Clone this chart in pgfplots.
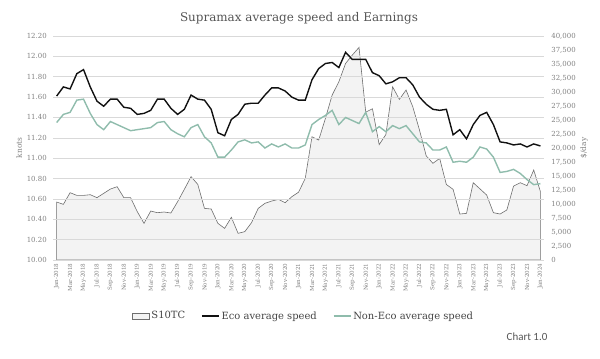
\documentclass[border=0pt]{standalone}
\usepackage{pgfplots}
\pgfplotsset{compat=1.18}
\usepackage{pgfplotstable}
\usepackage{fontspec}
\setmainfont{DejaVu Serif}
\newfontfamily\chartfont{Carlito}
\definecolor{gridc}{HTML}{D9D9D9}
\definecolor{tickc}{HTML}{808080}
\definecolor{titlec}{HTML}{555555}
\definecolor{legc}{HTML}{444444}
\definecolor{ecoc}{HTML}{111111}
\definecolor{nonecoc}{HTML}{8FBCAC}
\definecolor{s10c}{HTML}{6E6E6E}
\definecolor{s10f}{HTML}{F3F3F3}

\pgfplotstableread{
m eco noneco s10
0 11.61 11.35 10350
1 11.70 11.43 9940
2 11.68 11.45 12020
3 11.83 11.57 11540
4 11.87 11.58 11540
5 11.70 11.44 11660
6 11.56 11.33 11130
7 11.51 11.28 11900
8 11.58 11.36 12670
9 11.58 11.33 13090
10 11.50 11.30 11130
11 11.49 11.27 11130
12 11.43 11.28 8630
13 11.44 11.29 6545
14 11.47 11.30 8750
15 11.58 11.35 8450
16 11.58 11.36 8570
17 11.49 11.28 8390
18 11.43 11.24 10410
19 11.48 11.21 12610
20 11.62 11.30 14880
21 11.58 11.33 13510
22 11.57 11.21 9220
23 11.48 11.15 9100
24 11.25 11.01 6545
25 11.22 11.01 5650
26 11.38 11.08 7620
27 11.43 11.16 4760
28 11.53 11.18 5060
29 11.54 11.15 6660
30 11.54 11.16 9220
31 11.62 11.10 10120
32 11.69 11.14 10530
33 11.69 11.11 10830
34 11.66 11.14 10230
35 11.60 11.10 11300
36 11.57 11.10 12100
37 11.57 11.13 14580
38 11.77 11.33 22015
39 11.88 11.38 21420
40 11.93 11.42 25290
41 11.94 11.47 29450
42 11.89 11.33 31830
43 12.04 11.40 35100
44 11.97 11.37 36590
45 11.97 11.34 37960
46 11.97 11.45 26400
47 11.84 11.26 27000
48 11.81 11.31 20600
49 11.73 11.26 22400
50 11.75 11.32 30940
51 11.79 11.29 28680
52 11.79 11.32 30350
53 11.72 11.24 27370
54 11.60 11.16 23200
55 11.53 11.15 18600
56 11.48 11.08 17260
57 11.47 11.08 18150
58 11.48 11.11 13480
59 11.23 10.96 12620
60 11.28 10.97 8210
61 11.19 10.96 8330
62 11.33 11.01 13800
63 11.42 11.11 12700
64 11.45 11.09 11600
65 11.33 11.01 8450
66 11.16 10.86 8210
67 11.15 10.87 8930
68 11.13 10.89 13200
69 11.14 10.85 13800
70 11.11 10.79 13270
71 11.14 10.74 16070
72 11.12 10.75 12200
}\speeddata

\begin{document}
\begin{tikzpicture}
\path[use as bounding box] (-53.3bp,-99bp) rectangle (546.7bp,260bp);
% right axis: S10TC earnings
\begin{axis}[
  at={(0,0)}, anchor=south west, scale only axis,
  width=490.5bp, height=224bp,
  xmin=-0.5, xmax=72.5, ymin=0, ymax=40000,
  axis x line=none, axis y line*=right,
  axis line style={draw=none},
  major tick length=0pt,
  ytick={0,2500,5000,7500,10000,12500,15000,17500,20000,22500,25000,27500,30000,32500,35000,37500,40000},
  scaled y ticks=false,
  yticklabel style={font=\fontsize{7}{8}\selectfont, text=tickc, xshift=4bp,
    /pgf/number format/.cd, fixed, 1000 sep={,}, assume math mode=true},
  ylabel={\$/day},
  ylabel style={font=\fontsize{7.5}{9}\selectfont, text=tickc},
  ylabel shift=-2bp,
]
\addplot[draw=s10c, line width=0.6pt, fill=s10f] table[x=m, y=s10] {\speeddata} \closedcycle;
\end{axis}
% left axis: speeds
\begin{axis}[
  at={(0,0)}, anchor=south west, scale only axis,
  width=490.5bp, height=224bp,
  xmin=-0.5, xmax=72.5, ymin=10, ymax=12.2,
  axis line style={draw=none},
  major tick length=0pt,
  ymajorgrids, grid style={gridc, line width=0.6pt},
  ytick={10,10.2,10.4,10.6,10.8,11,11.2,11.4,11.6,11.8,12,12.2},
  ytick pos=left,
  yticklabel style={font=\fontsize{7}{8}\selectfont, text=tickc, xshift=-3bp,
    /pgf/number format/.cd, fixed, fixed zerofill, precision=2, assume math mode=true},
  xtick={0,2,...,72},
  xticklabels={Jan-2018,Mar-2018,May-2018,Jul-2018,Sep-2018,Nov-2018,
    Jan-2019,Mar-2019,May-2019,Jul-2019,Sep-2019,Nov-2019,
    Jan-2020,Mar-2020,May-2020,Jul-2020,Sep-2020,Nov-2020,
    Jan-2021,Mar-2021,May-2021,Jul-2021,Sep-2021,Nov-2021,
    Jan-2022,Mar-2022,May-2022,Jul-2022,Sep-2022,Nov-2022,
    Jan-2023,Mar-2023,May-2023,Jul-2023,Sep-2023,Nov-2023,Jan-2024},
  xticklabel style={font=\fontsize{5.6}{6}\selectfont, text=tickc, rotate=90, anchor=east},
  xtick pos=bottom,
  ylabel={knots},
  ylabel style={font=\fontsize{7.5}{9}\selectfont, text=tickc},
  ylabel shift=-2bp,
  legend style={at={(0.51,-0.25)}, anchor=center, draw=none, fill=none,
    legend columns=3, font=\fontsize{10}{12}\selectfont, text=legc,
    /tikz/every even column/.append style={column sep=14bp}},
  legend cell align=left,
]
\addlegendimage{area legend, draw=s10c, line width=0.6pt, fill=s10f}
\addlegendentry{S10TC}
\addplot[ecoc, line width=1.4pt] table[x=m, y=eco] {\speeddata};
\addlegendentry{Eco average speed}
\addplot[nonecoc, line width=1.4pt] table[x=m, y=noneco] {\speeddata};
\addlegendentry{Non-Eco average speed}
\end{axis}
\node[font=\fontsize{12}{14}\selectfont, text=titlec] at (245.7bp,242bp) {Supramax average speed and Earnings};
\node[font=\chartfont\fontsize{11}{13}\selectfont, text=titlec] at (473.7bp,-77bp) {Chart 1.0};
\end{tikzpicture}
\end{document}
